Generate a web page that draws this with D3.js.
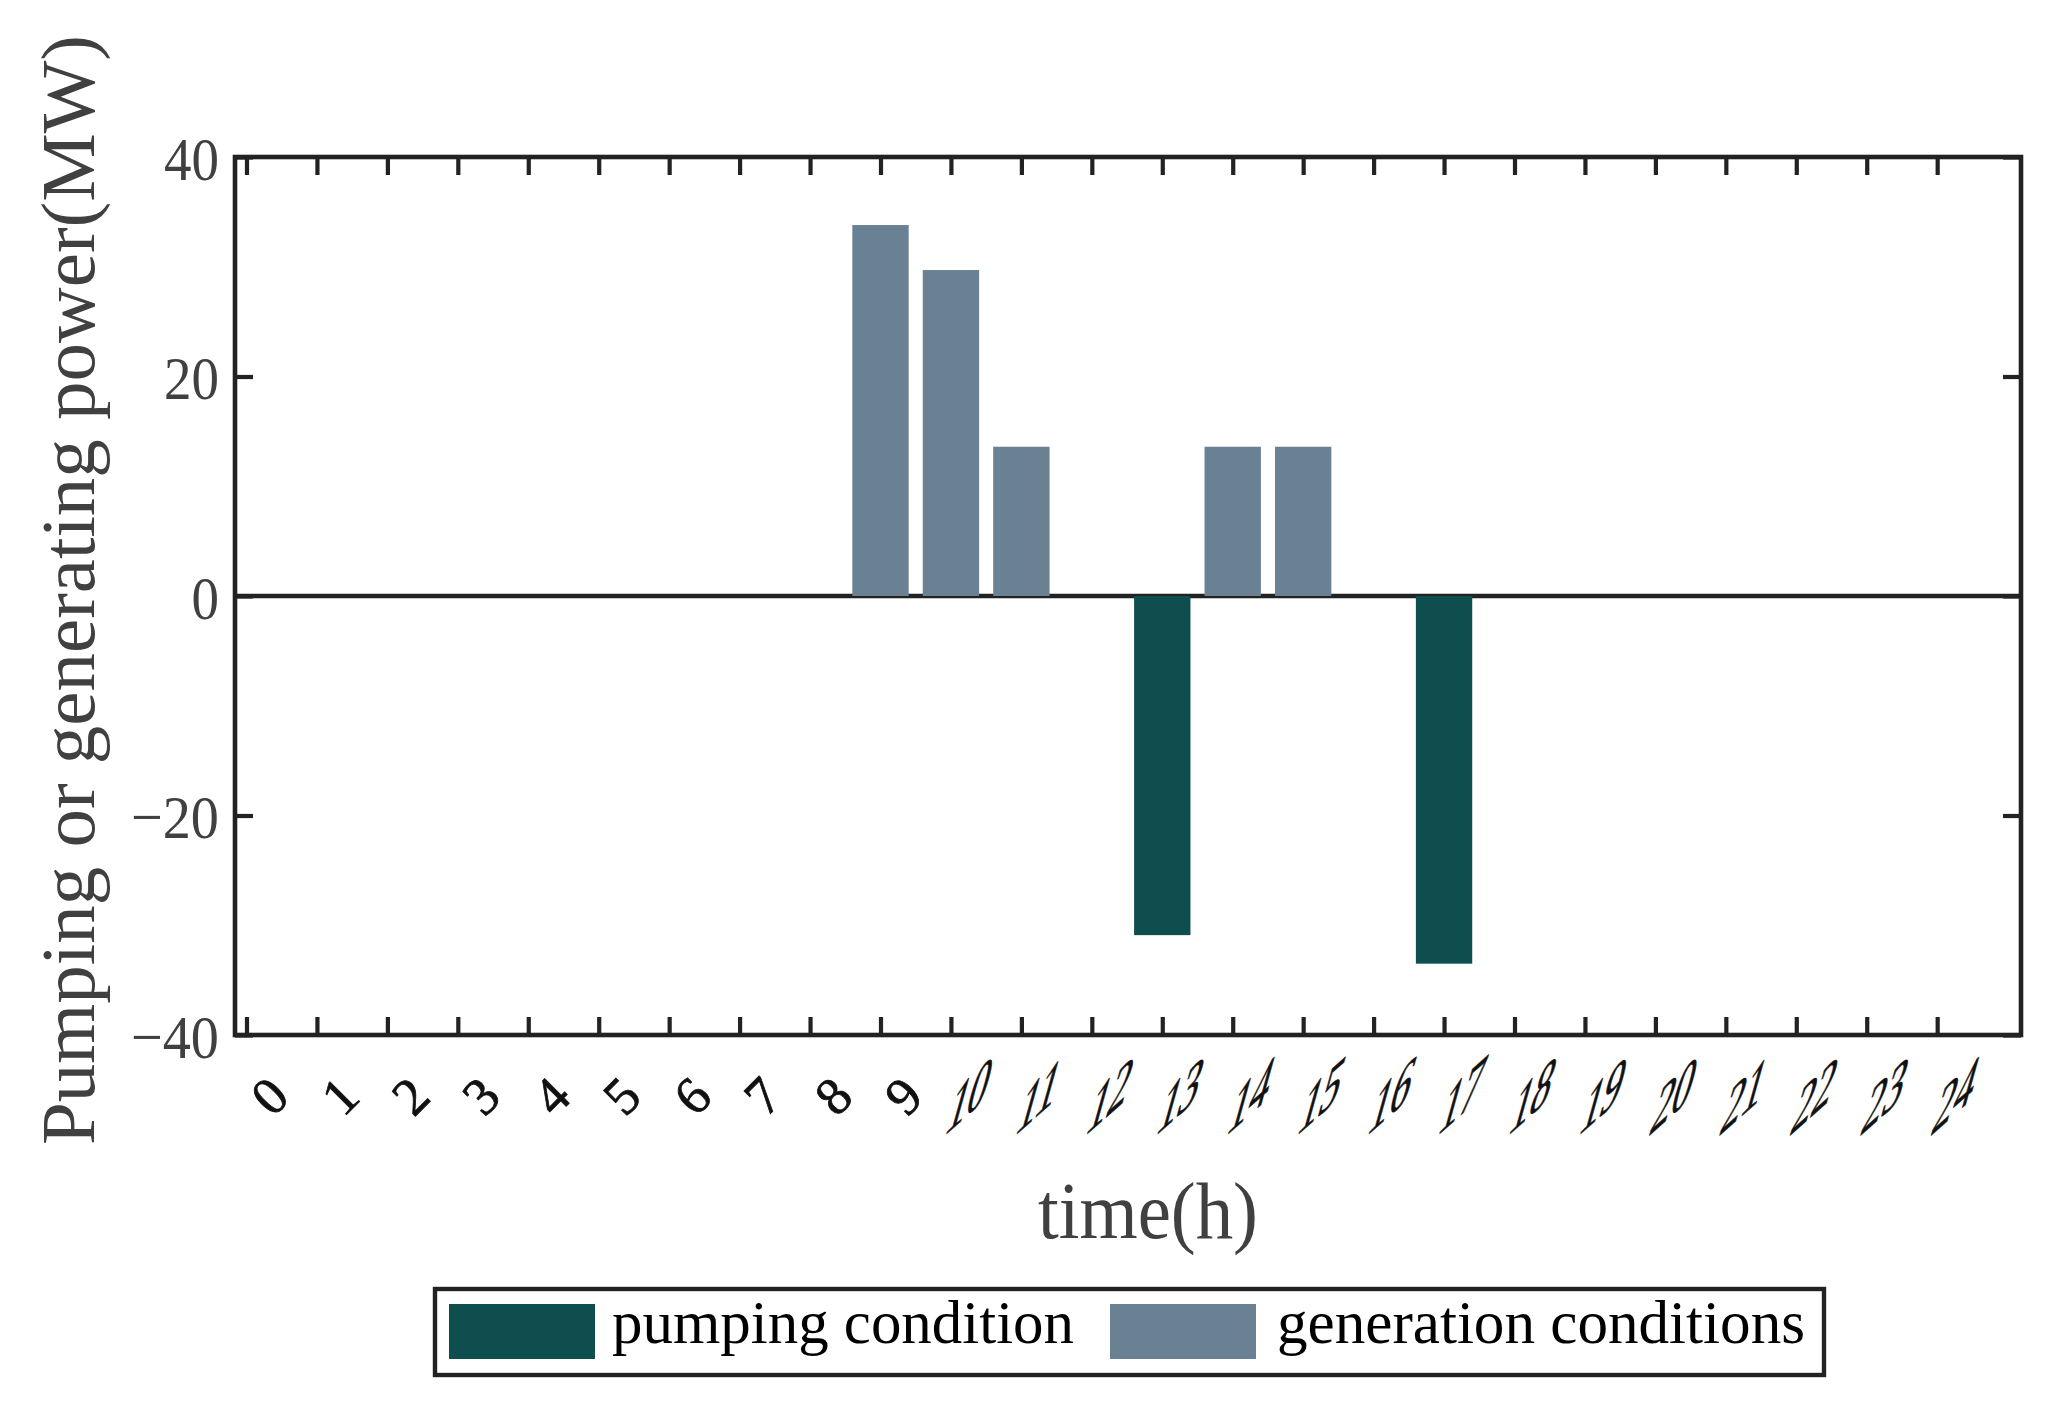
<!DOCTYPE html>
<html>
<head>
<meta charset="utf-8">
<script src="https://cdn.jsdelivr.net/npm/d3@7"></script>
<style>
  body { margin: 0; background: #fff; }
  svg { display: block; font-family: "Liberation Serif", "Times New Roman", serif; }
</style>
</head>
<body>
<div id="chart"></div>
<script>
// hours on the x axis
const hours = [0, 1, 2, 3, 4, 5, 6, 7, 8, 9, 10, 11, 12, 13, 14, 15, 16, 17, 18, 19, 20, 21, 22, 23, 24]

// pumping (negative) and generating (positive) power, MW, one value per hour
const pumping = [0, 0, 0, 0, 0, 0, 0, 0, 0, 0, 0, 0, 0, -30.9, 0, 0, 0, -33.5, 0, 0, 0, 0, 0, 0, 0]
const generation = [0, 0, 0, 0, 0, 0, 0, 0, 0, 33.8, 29.7, 13.6, 0, 0, 13.6, 13.6, 0, 0, 0, 0, 0, 0, 0, 0, 0]

const yTicks = [-40, -20, 0, 20, 40]
const seriesNames = ['pumping condition', 'generation conditions']

const colors = { pumping: '#0e4e4e', generation: '#6a8194' }
const ink = '#222'
const grey = '#404040'

const width = 2072, height = 1412
const plot = { left: 235, right: 2021, top: 157, bottom: 1035 }

const svg = d3.select('#chart')
  .append('svg')
  .attr('width', width)
  .attr('height', height)

const x = d3.scaleLinear()
  .domain([-0.163, 25.19])
  .range([plot.left, plot.right])

const y = d3.scaleLinear()
  .domain([-40, 40])
  .range([plot.bottom, plot.top])

const barWidth = x(0.8) - x(0)

// zero line sits under the bars
svg.append('line')
  .attr('x1', plot.left).attr('x2', plot.right)
  .attr('y1', y(0)).attr('y2', y(0))
  .attr('stroke', ink)
  .attr('stroke-width', 4.6)

const rows = hours.map((h, i) => ({ h, pump: pumping[i], gen: generation[i] }))

svg.selectAll('rect.gen')
  .data(rows.filter(d => d.gen !== 0))
  .enter()
  .append('rect')
  .attr('class', 'gen')
  .attr('x', d => x(d.h) - barWidth / 2)
  .attr('width', barWidth)
  .attr('y', d => y(d.gen))
  .attr('height', d => y(0) - y(d.gen))
  .attr('fill', colors.generation)

svg.selectAll('rect.pump')
  .data(rows.filter(d => d.pump !== 0))
  .enter()
  .append('rect')
  .attr('class', 'pump')
  .attr('x', d => x(d.h) - barWidth / 2)
  .attr('width', barWidth)
  .attr('y', y(0))
  .attr('height', d => y(d.pump) - y(0))
  .attr('fill', colors.pumping)

// inward ticks on all four sides
const tick = 18
const styleAxis = g => {
  g.select('.domain').remove()
  g.selectAll('.tick line').attr('stroke', ink).attr('stroke-width', 4.2)
}

svg.append('g')
  .attr('transform', `translate(0,${plot.bottom})`)
  .call(d3.axisBottom(x).tickValues(hours).tickSize(-tick).tickFormat(''))
  .call(styleAxis)

svg.append('g')
  .attr('transform', `translate(0,${plot.top})`)
  .call(d3.axisTop(x).tickValues(hours).tickSize(-tick).tickFormat(''))
  .call(styleAxis)

svg.append('g')
  .attr('transform', `translate(${plot.right},0)`)
  .call(d3.axisRight(y).tickValues(yTicks).tickSize(-tick).tickFormat(''))
  .call(styleAxis)

const yAxis = svg.append('g')
  .attr('transform', `translate(${plot.left},0)`)
  .call(d3.axisLeft(y).tickValues(yTicks).tickSize(-tick).tickPadding(16)
    .tickFormat(d => d < 0 ? '\u2212' + Math.abs(d) : String(d)))
  .call(styleAxis)

yAxis.selectAll('.tick text')
  .attr('font-size', 62)
  .attr('font-family', '"Liberation Serif", serif')
  .attr('fill', grey)
  .attr('dy', '0.36em')
  .attr('textLength', d => (d < 0 ? 33 : 0) + String(Math.abs(d)).length * 27.5)
  .attr('lengthAdjust', 'spacingAndGlyphs')

// frame
svg.append('rect')
  .attr('x', plot.left).attr('y', plot.top)
  .attr('width', plot.right - plot.left)
  .attr('height', plot.bottom - plot.top)
  .attr('fill', 'none')
  .attr('stroke', ink)
  .attr('stroke-width', 4.6)

// rotated hour labels; two-digit ones are sheared: diagonal run, glyphs leaning right
const xLabels = svg.append('g')
xLabels.selectAll('text')
  .data(hours)
  .enter()
  .append('text')
  .attr('transform', d => d < 10
    ? `translate(${x(d) + 23},${1096}) rotate(-45)`
    : `matrix(0.7,-0.62,-0.35,1.25,${x(d) - 8},${1137})`)
  .attr('text-anchor', d => d < 10 ? 'middle' : 'start')
  .attr('dominant-baseline', d => d < 10 ? 'central' : 'alphabetic')
  .attr('font-size', d => d < 10 ? 53 : 58)
  .attr('fill', '#111')
  .attr('stroke', '#111')
  .attr('stroke-width', 0.8)
  .text(d => d)

// axis titles
svg.append('text')
  .attr('x', 1038)
  .attr('y', 1238)
  .attr('font-size', 80)
  .attr('fill', grey)
  .attr('textLength', 220)
  .attr('lengthAdjust', 'spacingAndGlyphs')
  .text('time(h)')

svg.append('text')
  .attr('transform', 'translate(94,590) rotate(-90)')
  .attr('text-anchor', 'middle')
  .attr('font-size', 77)
  .attr('fill', grey)
  .attr('textLength', 1110)
  .attr('lengthAdjust', 'spacingAndGlyphs')
  .text('Pumping or generating power(MW)')

// legend
const legend = svg.append('g')
legend.append('rect')
  .attr('x', 435).attr('y', 1289)
  .attr('width', 1824 - 435).attr('height', 1375 - 1289)
  .attr('fill', '#fff')
  .attr('stroke', ink)
  .attr('stroke-width', 4.4)

const legendItems = [
  { name: seriesNames[0], color: colors.pumping, patchX: 449, textX: 612, textLen: 462 },
  { name: seriesNames[1], color: colors.generation, patchX: 1110, textX: 1277, textLen: 528 },
]

legend.selectAll('rect.patch')
  .data(legendItems)
  .enter()
  .append('rect')
  .attr('class', 'patch')
  .attr('x', d => d.patchX)
  .attr('y', 1304)
  .attr('width', 146)
  .attr('height', 55)
  .attr('fill', d => d.color)

legend.selectAll('text')
  .data(legendItems)
  .enter()
  .append('text')
  .attr('x', d => d.textX)
  .attr('y', 1343)
  .attr('font-size', 62)
  .attr('fill', '#000')
  .attr('textLength', d => d.textLen)
  .attr('lengthAdjust', 'spacingAndGlyphs')
  .text(d => d.name)
</script>
</body>
</html>
